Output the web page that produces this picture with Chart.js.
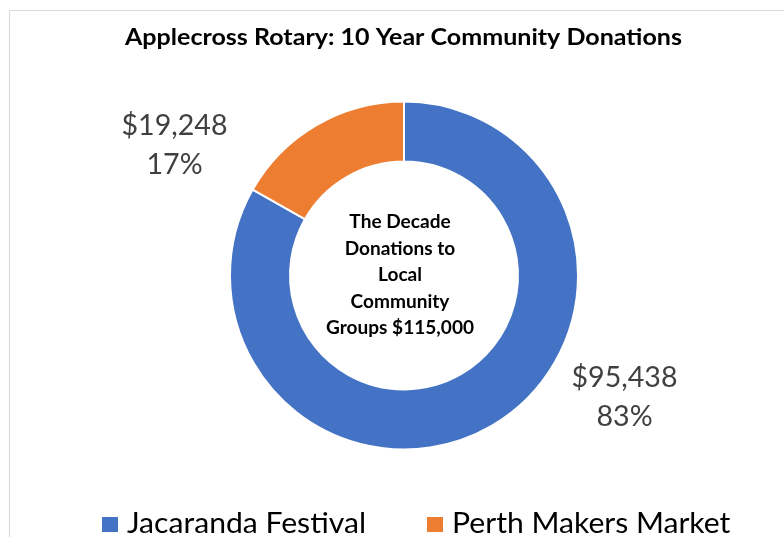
<!DOCTYPE html>
<html>
<head>
<meta charset="utf-8">
<script src="https://cdn.jsdelivr.net/npm/chart.js@4/dist/chart.umd.min.js"></script>
<style>
  html, body { margin: 0; padding: 0; background: #ffffff; }
  #wrap { width: 784px; height: 537px; position: relative; overflow: hidden; }
  canvas { display: block; }
</style>
</head>
<body>
<div id="wrap"><canvas id="c" width="784" height="537"></canvas></div>
<script>
// ---- data ----
const categories = ['Jacaranda Festival', 'Perth Makers Market'];
const donations = [95438, 19248];
const percentLabels = ['83%', '17%'];
const seriesColors = ['#4472C4', '#ED7D31'];
const chartTitle = 'Applecross Rotary: 10 Year Community Donations';
const centerLines = ['The Decade', 'Donations to', 'Local', 'Community', 'Groups $115,000'];

const FONT = 'Lato, "Open Sans", "DejaVu Sans", sans-serif';

function fitText(ctx, text, cx, baseline, targetW, font, color) {
  ctx.save();
  ctx.font = font;
  ctx.fillStyle = color;
  ctx.textBaseline = 'alphabetic';
  ctx.textAlign = 'left';
  const w = ctx.measureText(text).width;
  const s = targetW / w;
  ctx.translate(cx - targetW / 2, baseline);
  ctx.scale(s, 1);
  ctx.fillText(text, 0, 0);
  ctx.restore();
}
function scaledText(ctx, text, x, baseline, scale, font, color, align) {
  ctx.save();
  ctx.font = font;
  ctx.fillStyle = color;
  ctx.textBaseline = 'alphabetic';
  const w = ctx.measureText(text).width * scale;
  let left = x;
  if (align === 'center') left = x - w / 2;
  ctx.translate(left, baseline);
  ctx.scale(scale, 1);
  ctx.fillText(text, 0, 0);
  ctx.restore();
  return w;
}

const decorations = {
  id: 'decorations',
  beforeDraw(chart) {
    const ctx = chart.ctx;
    ctx.save();
    ctx.fillStyle = '#ffffff';
    ctx.fillRect(0, 0, chart.width, chart.height);
    ctx.strokeStyle = '#D9D9D9';
    ctx.lineWidth = 1;
    ctx.strokeRect(9.5, 10.5, 1000, 1000);
    ctx.restore();
  },
  afterDraw(chart) {
    const ctx = chart.ctx;
    // title
    fitText(ctx, chartTitle, 403.5, 45, 557, 'bold 23px ' + FONT, '#000000');

    // data labels
    const fmt = v => '$' + v.toLocaleString('en-US');
    const labelFont = '28px ' + FONT;
    const gray = '#404040';
    // reference scale from one label
    ctx.save(); ctx.font = labelFont;
    const lblScale = 106 / ctx.measureText(fmt(donations[0])).width;
    ctx.restore();
    const labelPos = [[624.5, 387, 426], [174.5, 135, 174]];
    donations.forEach((v, i) => {
      const [x, b1, b2] = labelPos[i];
      scaledText(ctx, fmt(v), x, b1, lblScale, labelFont, gray, 'center');
      scaledText(ctx, percentLabels[i], x, b2, lblScale, labelFont, gray, 'center');
    });

    // center text
    const cFont = 'bold 18px ' + FONT;
    ctx.save(); ctx.font = cFont;
    const cScale = 148 / ctx.measureText(centerLines[4]).width;
    ctx.restore();
    centerLines.forEach((t, i) => {
      scaledText(ctx, t, 400, 228 + i * 26.5, cScale, cFont, '#000000', 'center');
    });

    // legend
    const lFont = '29px ' + FONT;
    ctx.save(); ctx.font = lFont;
    const lScale = 239 / ctx.measureText(categories[0]).width;
    ctx.restore();
    const legendX = [102, 427];
    categories.forEach((c, i) => {
      ctx.save();
      ctx.fillStyle = seriesColors[i];
      ctx.fillRect(legendX[i], 517, 16, 15);
      ctx.restore();
      scaledText(ctx, c, legendX[i] + 25, 533, lScale, lFont, '#000000', 'left');
    });
  }
};

new Chart(document.getElementById('c'), {
  type: 'doughnut',
  data: {
    labels: categories,
    datasets: [{
      data: donations,
      backgroundColor: seriesColors,
      borderColor: '#ffffff',
      borderWidth: 2,
      hoverOffset: 0
    }]
  },
  options: {
    responsive: false,
    animation: false,
    cutout: '65.5%',
    rotation: 0,
    layout: { padding: { top: 100, bottom: 86, left: 229, right: 205 } },
    plugins: {
      legend: { display: false },
      title: { display: false },
      tooltip: { enabled: false }
    }
  },
  plugins: [decorations]
});
</script>
</body>
</html>
